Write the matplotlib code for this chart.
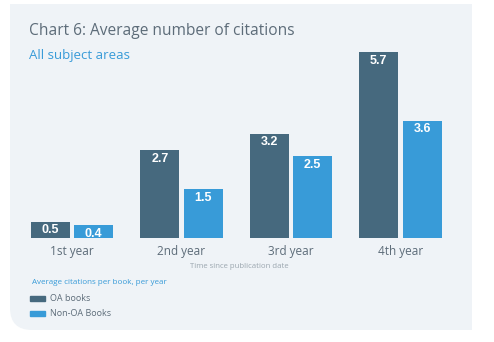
import matplotlib.pyplot as plt
import numpy as np
from matplotlib.path import Path
from matplotlib.patches import PathPatch

# data
years = ["1st year", "2nd year", "3rd year", "4th year"]
oa_books = [0.5, 2.7, 3.2, 5.7]
non_oa_books = [0.4, 1.5, 2.5, 3.6]

dark = "#46697e"
light = "#389bd8"
panel = "#eff3f7"
grey_txt = "#5d6c79"

plt.rcParams['font.family'] = ['Open Sans', 'DejaVu Sans']

fig = plt.figure(figsize=(4.94, 3.42), dpi=100)
fig.patch.set_facecolor("white")

# background panel in pixel coords
bg = fig.add_axes([0, 0, 1, 1], zorder=0)
bg.set_xlim(0, 494)
bg.set_ylim(342, 0)
bg.axis("off")
L, R, T, B, r = 10, 472, 4, 330, 22
verts = [(L, T), (R, T), (R, B), (L + r, B), (L, B), (L, B - r), (L, T)]
codes = [Path.MOVETO, Path.LINETO, Path.LINETO, Path.LINETO,
         Path.CURVE3, Path.CURVE3, Path.CLOSEPOLY]
bg.add_patch(PathPatch(Path(verts, codes), facecolor=panel, edgecolor="none"))

bg.text(29, 31, "Chart 6: Average number of citations", fontsize=11.2,
        color=grey_txt, va="center", ha="left")
bg.text(29, 55, "All subject areas", fontsize=9.5, color=light,
        va="center", ha="left")
bg.text(239, 266, "Time since publication date", fontsize=5.6,
        color="#9ba6af", va="center", ha="center")
bg.text(32, 283, "Average citations per book, per year", fontsize=5.8,
        color=light, va="center", ha="left")
for yy, c, lab in [(298.5, dark, "OA books"), (313.5, light, "Non-OA Books")]:
    bg.add_patch(plt.Rectangle((30, yy - 2.5), 15, 5, color=c))
    bg.text(50, yy, lab, fontsize=6.5, color=grey_txt, va="center", ha="left")

# bars
ax = fig.add_axes([17.25 / 494, 104 / 342, 438 / 494, 212 / 342], zorder=1)
ax.patch.set_alpha(0)
x = np.arange(len(years))
w = 0.356
off = 0.198
b1 = ax.bar(x - off, oa_books, w, color=dark)
b2 = ax.bar(x + off, non_oa_books, w, color=light)
ax.set_xlim(-0.5, 3.5)
ax.set_ylim(0, 6.5)
for bars in (b1, b2):
    for bar in bars:
        h = bar.get_height()
        ax.annotate(f"{h:.1f}", (bar.get_x() + bar.get_width() / 2, h),
                    xytext=(0, -6.2), textcoords="offset points",
                    ha="center", va="center", color="white",
                    fontsize=9, fontweight="bold", family="Liberation Sans")
ax.set_xticks(x)
ax.set_xticklabels(years, fontsize=8.5, color=grey_txt)
ax.tick_params(axis="x", length=0, pad=5)
ax.set_yticks([])
for s in ax.spines.values():
    s.set_visible(False)

fig.savefig("out.png", dpi=100)
